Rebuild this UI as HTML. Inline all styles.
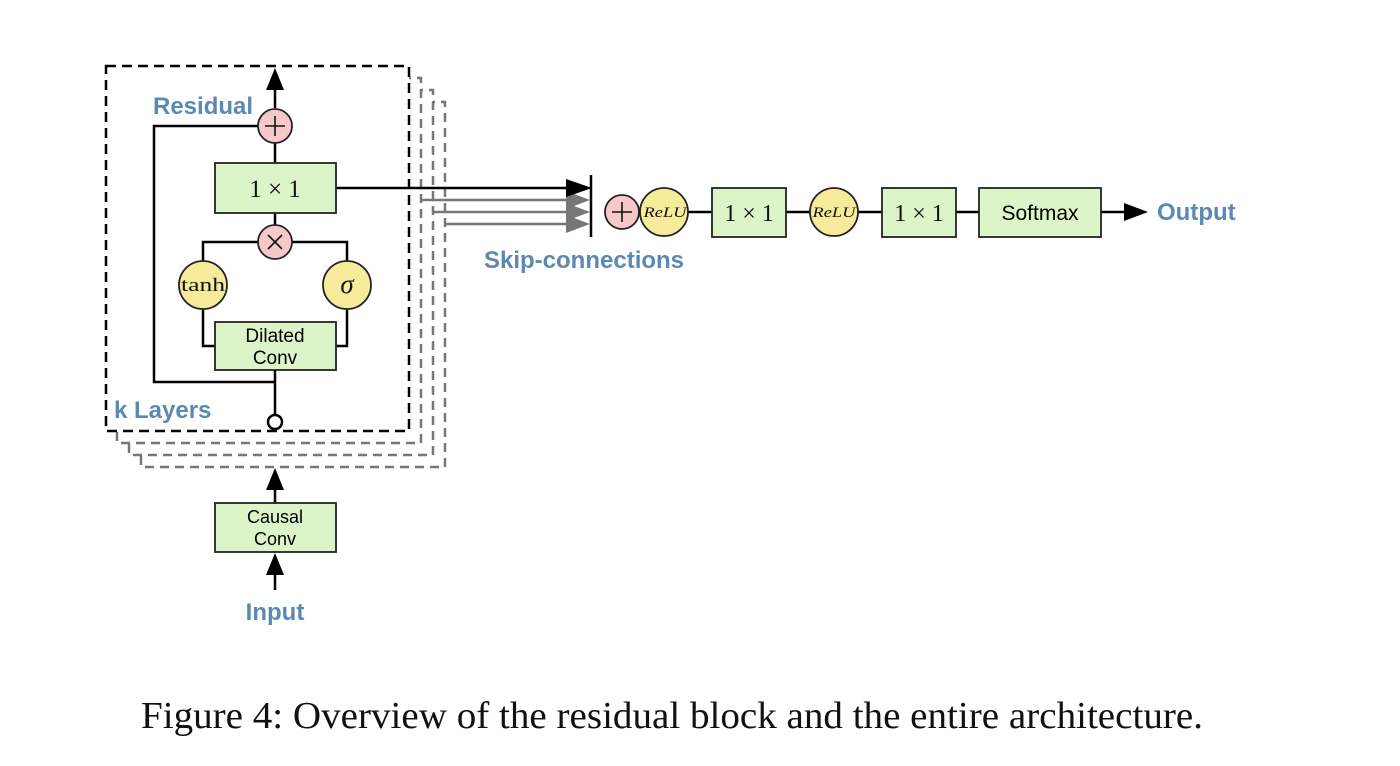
<!DOCTYPE html>
<html><head><meta charset="utf-8"><style>
html,body{margin:0;padding:0;background:#fff;}
svg{display:block;}
.b{font-family:"Liberation Sans",sans-serif;font-weight:bold;fill:#5b89b3;}
.s{font-family:"Liberation Sans",sans-serif;fill:#000;}
.m{font-family:"Liberation Serif",serif;fill:#111;}
</style></head><body>
<svg width="1400" height="766" viewBox="0 0 1400 766" xmlns="http://www.w3.org/2000/svg">
<g fill="#fff" stroke="#777" stroke-width="2.5" stroke-dasharray="9,6">
<rect x="141" y="102" width="304" height="365"/>
<rect x="129" y="90" width="304" height="365"/>
<rect x="117" y="78" width="304" height="365"/>
</g>
<g stroke="#777" stroke-width="2.5">
<line x1="421" y1="200" x2="570" y2="200"/>
<line x1="433" y1="212" x2="570" y2="212"/>
<line x1="445" y1="224" x2="570" y2="224"/>
</g>
<g fill="#777">
<path d="M566,191 L590,200 L566,209z"/>
<path d="M566,203 L590,212 L566,221z"/>
<path d="M566,215 L590,224 L566,233z"/>
</g>
<rect x="106" y="66" width="303" height="365" fill="#fff" stroke="#000" stroke-width="2.5" stroke-dasharray="10,6"/>
<g stroke="#000" stroke-width="2.5" fill="none">
<line x1="275" y1="108" x2="275" y2="86"/>
<line x1="275" y1="143" x2="275" y2="163"/>
<line x1="275" y1="213" x2="275" y2="225"/>
<polyline points="258,126 154,126 154,382 275,382"/>
<line x1="275" y1="370" x2="275" y2="415"/>
<polyline points="203,261 203,242 258,242"/>
<polyline points="292,242 347,242 347,261"/>
<polyline points="203,309 203,346 215,346"/>
<polyline points="347,309 347,346 336,346"/>
<line x1="336" y1="188" x2="570" y2="188"/>
<line x1="591" y1="175" x2="591" y2="237"/>
<line x1="688" y1="212" x2="712" y2="212"/>
<line x1="786" y1="212" x2="810" y2="212"/>
<line x1="858" y1="212" x2="882" y2="212"/>
<line x1="956" y1="212" x2="979" y2="212"/>
<line x1="1101" y1="212" x2="1128" y2="212"/>
<line x1="275" y1="503" x2="275" y2="485"/>
<line x1="275" y1="590" x2="275" y2="570"/>
</g>
<g fill="#000">
<path d="M266,90 L275,68 L284,90z"/>
<path d="M566,179 L592,188 L566,197z"/>
<path d="M1124,203 L1148,212 L1124,221z"/>
<path d="M266,490 L275,468 L284,490z"/>
<path d="M266,575 L275,553 L284,575z"/>
</g>
<circle cx="275" cy="422" r="7" fill="#fff" stroke="#000" stroke-width="2.5"/>
<g fill="#dcf5c8" stroke="#222" stroke-width="1.8">
<rect x="215" y="163" width="121" height="50"/>
<rect x="215" y="322" width="121" height="48"/>
<rect x="215" y="503" width="121" height="49"/>
<rect x="712" y="188" width="74" height="49"/>
<rect x="882" y="188" width="74" height="49"/>
<rect x="979" y="188" width="122" height="49"/>
</g>
<g fill="#f5c9c9" stroke="#222" stroke-width="1.8">
<circle cx="275" cy="126" r="17"/>
<circle cx="275" cy="242" r="17"/>
<circle cx="622" cy="212" r="17"/>
</g>
<g fill="#f6eb9b" stroke="#222" stroke-width="1.8">
<circle cx="203" cy="285" r="24"/>
<circle cx="347" cy="285" r="24"/>
<circle cx="664" cy="212" r="24"/>
<circle cx="834" cy="212" r="24"/>
</g>
<g stroke="#111" stroke-width="1.6">
<line x1="265" y1="126" x2="285" y2="126"/><line x1="275" y1="116" x2="275" y2="136"/>
<line x1="612" y1="212" x2="632" y2="212"/><line x1="622" y1="202" x2="622" y2="222"/>
<line x1="268" y1="235" x2="282" y2="249"/><line x1="282" y1="235" x2="268" y2="249"/>
</g>
<text class="m" x="275" y="197" font-size="25" text-anchor="middle">1 × 1</text>
<text class="m" x="749" y="221" font-size="24" text-anchor="middle">1 × 1</text>
<text class="m" x="919" y="221" font-size="24" text-anchor="middle">1 × 1</text>
<text class="m" x="203" y="291" font-size="19" text-anchor="middle" textLength="44" lengthAdjust="spacingAndGlyphs">tanh</text>
<text class="m" x="347" y="293" font-size="27" font-style="italic" text-anchor="middle">σ</text>
<text class="m" x="665" y="217" font-size="15" font-style="italic" text-anchor="middle" textLength="43" lengthAdjust="spacingAndGlyphs">ReLU</text>
<text class="m" x="834" y="217" font-size="15" font-style="italic" text-anchor="middle" textLength="43" lengthAdjust="spacingAndGlyphs">ReLU</text>
<text class="s" x="275" y="342" font-size="19" text-anchor="middle">Dilated</text>
<text class="s" x="275" y="364" font-size="19" text-anchor="middle">Conv</text>
<text class="s" x="275" y="523" font-size="18" text-anchor="middle">Causal</text>
<text class="s" x="275" y="545" font-size="18" text-anchor="middle">Conv</text>
<text class="s" x="1040" y="220" font-size="21" text-anchor="middle">Softmax</text>
<text class="b" x="153" y="114" font-size="24">Residual</text>
<text class="b" x="114" y="418" font-size="24">k Layers</text>
<text class="b" x="484" y="268" font-size="24">Skip-connections</text>
<text class="b" x="1157" y="220" font-size="24">Output</text>
<text class="b" x="275" y="620" font-size="24" text-anchor="middle">Input</text>
<text x="672" y="728" font-family="Liberation Serif,serif" font-size="38" text-anchor="middle" fill="#111" textLength="1062" lengthAdjust="spacingAndGlyphs">Figure 4: Overview of the residual block and the entire architecture.</text>
</svg>
</body></html>
